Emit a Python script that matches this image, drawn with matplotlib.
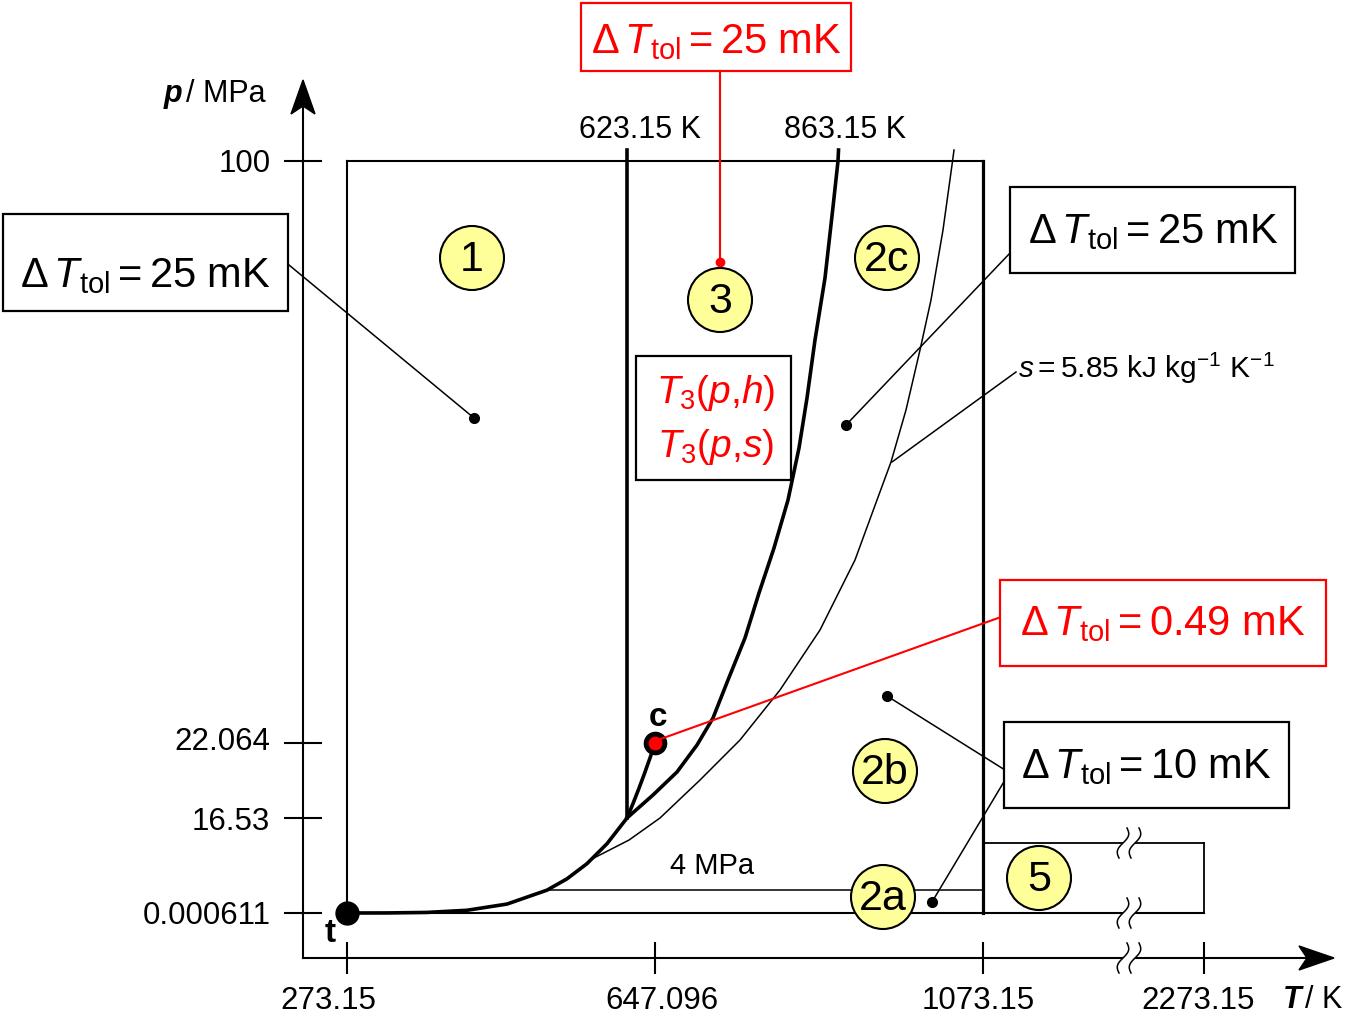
import numpy as np
import matplotlib
matplotlib.use('Agg')
import matplotlib.pyplot as plt
from matplotlib.patches import Rectangle, Circle, Polygon
from matplotlib.ticker import NullLocator
import matplotlib.transforms as mtransforms

plt.rcParams['font.family'] = ['Liberation Sans', 'DejaVu Sans']
plt.rcParams['mathtext.fontset'] = 'custom'
plt.rcParams['mathtext.rm'] = 'Liberation Sans'
plt.rcParams['mathtext.it'] = 'Liberation Sans:italic'
plt.rcParams['mathtext.bf'] = 'Liberation Sans:bold'

# ---------------- data ----------------
T_ticks = [273.15, 647.096, 1073.15, 2273.15]
T_tick_labels = ['273.15', '647.096', '1073.15', '2273.15']
p_ticks = [0.000611, 16.53, 22.064, 100]
p_tick_labels = ['0.000611', '16.53', '22.064', '100']

T_triple, p_triple = 273.16, 0.000611
T_crit, p_crit = 647.096, 22.064
T_13 = 623.15          # boundary region 1 / 3
T_max = 1073.15
T_5max = 2273.15
p_min = 0.000611
p_max = 100.0
p_top_ext = 101.5      # lines drawn slightly above 100 MPa
p_2a2b = 4.0
T_sat_4MPa = 523.5
p_5top = 12.2          # schematic upper edge of region 5 as drawn

# saturation line (T / K, p / MPa)
sat_T = [273.16, 323.15, 373.15, 423.15, 473.15, 523.15, 548.15, 573.15,
         598.15, 623.15, 628.15, 633.15, 638.15, 643.15, 647.096]
sat_p = [0.000612, 0.012352, 0.10142, 0.4762, 1.5547, 3.9762, 5.9464, 8.5879,
         12.056, 16.529, 17.57, 18.666, 19.822, 21.044, 22.064]

# boundary between regions 2 and 3 (as drawn)
b23_T = [623.15, 645.39, 673.07, 696.68, 715.57, 733.28, 753.35, 769.88, 787.59,
         804.12, 817.11, 826.55, 835.99, 847.80, 857.25, 863.15, 863.9]
b23_p = [16.53, 18.227, 19.924, 21.916, 25.412, 30.500, 36.125, 42.151, 48.177,
         54.604, 61.568, 68.263, 76.030, 84.333, 93.840, 100.0, 101.47]

# isentrope s = 5.85 kJ/(kg K)
s_T = [579.4, 624.9, 653.0, 700.2, 747.45, 794.67, 841.90, 887.77, 919.63, 939.91,
       961.63, 981.91, 997.84, 1015.22, 1028.25, 1031.15]
s_p = [9.40, 12.70, 16.53, 19.33, 22.466, 29.161, 37.196, 46.570, 54.604, 59.693,
       66.656, 74.691, 81.387, 90.761, 99.465, 101.473]

# ---------------- schematic (piecewise linear) scales ----------------
W, H = 1350, 1024
X_KNOTS_T = [273.15, 623.15, 647.096, 863.15, 1073.15, 2273.15]
X_KNOTS_PX = [347, 627, 655, 838, 983, 1204]
Y_KNOTS_P = [0.000611, 16.53, 22.064, 100.0]
Y_KNOTS_PX = [H - 913, H - 818, H - 743, H - 161]


def pwl(xk, yk):
    xk = np.asarray(xk, float)
    yk = np.asarray(yk, float)
    s0 = (yk[1] - yk[0]) / (xk[1] - xk[0])
    s1 = (yk[-1] - yk[-2]) / (xk[-1] - xk[-2])

    def f(v):
        v = np.asarray(v, dtype=float)
        out = np.interp(v, xk, yk)
        out = np.where(v < xk[0], yk[0] + (v - xk[0]) * s0, out)
        out = np.where(v > xk[-1], yk[-1] + (v - xk[-1]) * s1, out)
        return out
    return f


fx, fx_inv = pwl(X_KNOTS_T, X_KNOTS_PX), pwl(X_KNOTS_PX, X_KNOTS_T)
fy, fy_inv = pwl(Y_KNOTS_P, Y_KNOTS_PX), pwl(Y_KNOTS_PX, Y_KNOTS_P)

fig = plt.figure(figsize=(13.5, 10.24), dpi=100)
AX_L, AX_R, AX_T, AX_B = 303, 1332, 82, 958
ax = fig.add_axes([AX_L / W, (H - AX_B) / H, (AX_R - AX_L) / W, (AX_B - AX_T) / H])
ax.set_xscale('function', functions=(fx, fx_inv))
ax.set_yscale('function', functions=(fy, fy_inv))
ax.set_xlim(float(fx_inv(AX_L)), float(fx_inv(AX_R)))
ax.set_ylim(float(fy_inv(H - AX_B)), float(fy_inv(H - AX_T)))
ax.patch.set_alpha(0)

for s in ('top', 'right'):
    ax.spines[s].set_visible(False)
for s in ('left', 'bottom'):
    ax.spines[s].set_linewidth(1.5)

ax.set_xticks(T_ticks, T_tick_labels)
ax.set_yticks(p_ticks, p_tick_labels)
ax.xaxis.set_minor_locator(NullLocator())
ax.yaxis.set_minor_locator(NullLocator())
ax.tick_params(axis='x', direction='inout', length=23, width=1.5, pad=9, labelsize=22.5)
ax.tick_params(axis='y', direction='inout', length=27, width=1.5, pad=10, labelsize=22.5)

x_off = [-19, 7, -5, -6]
for lab, d in zip(ax.get_xticklabels(), x_off):
    lab.set_transform(lab.get_transform() + mtransforms.ScaledTranslation(d / 100, 0, fig.dpi_scale_trans))
y_off = [0, 0, 4, 0]
for lab, d in zip(ax.get_yticklabels(), y_off):
    lab.set_transform(lab.get_transform() + mtransforms.ScaledTranslation(0, d / 100, fig.dpi_scale_trans))

K = 'black'
thick, thin, box_lw = 2.6, 1.1, 1.5

# region frame
ax.plot([T_triple, T_triple], [p_min, p_max], color=K, lw=box_lw, clip_on=False)
ax.plot([273.15, T_max], [p_max, p_max], color=K, lw=box_lw, clip_on=False)
ax.plot([273.15, T_5max], [p_min, p_min], color=K, lw=box_lw, clip_on=False)
ax.plot([T_max, T_max], [p_min, p_max], color=K, lw=2.3, clip_on=False)
# region 5 frame
ax.plot([T_max, T_5max], [p_5top, p_5top], color=K, lw=1.3, clip_on=False)
ax.plot([T_5max, T_5max], [p_min, p_5top], color=K, lw=1.3, clip_on=False)
# 4 MPa line
ax.plot([T_sat_4MPa, T_max], [p_2a2b, p_2a2b], color=K, lw=thin, clip_on=False)
# region 1/3 boundary
ax.plot([T_13, T_13], [16.53, p_top_ext], color=K, lw=thick, clip_on=False)
# saturation line, B23, isentrope
ax.plot(sat_T, sat_p, color=K, lw=thick, solid_capstyle='round', clip_on=False)
ax.plot(b23_T, b23_p, color=K, lw=thick, clip_on=False, zorder=9)
ax.plot(s_T, s_p, color=K, lw=thin, clip_on=False)
# triple & critical point
ax.plot([T_triple], [p_triple], 'o', color=K, ms=16.5, clip_on=False, zorder=5)
ax.plot([T_crit], [p_crit], 'o', color=K, ms=16, clip_on=False, zorder=5)
ax.plot([T_crit], [p_crit], 'o', color='red', ms=9, clip_on=False, zorder=6)

# ---------------- overlay (pixel layout) ----------------
ov = fig.add_axes([0, 0, 1, 1])
ov.set_xlim(0, W)
ov.set_ylim(H, 0)
ov.axis('off')
ov.patch.set_alpha(0)

RED = '#ff0000'
YEL = '#ffff99'

# axis arrow heads
ov.add_patch(Polygon([(303, 80), (291, 114), (303, 106), (315, 114)], closed=True, color=K, zorder=5))
ov.add_patch(Polygon([(1334, 958), (1299, 946), (1307, 958), (1299, 970)], closed=True, color=K, zorder=5))


def draw_break(xc, yc):
    t = np.linspace(0, 1, 60)
    yy = yc - 15 + 30 * t
    curves = []
    for dx in (-6, 6):
        xx = xc + dx + 3.5 * np.sin(2 * np.pi * t) + 8 * (0.5 - t)
        curves.append(xx)
    poly = np.column_stack([np.r_[curves[0], curves[1][::-1]], np.r_[yy, yy[::-1]]])
    ov.add_patch(Polygon(poly, closed=True, facecolor='white', edgecolor='none', zorder=3))
    for xx in curves:
        ov.plot(xx, yy, color=K, lw=1.1, zorder=4)


for yb in (843, 913, 958):
    draw_break(1129, yb)

# region circles
regions = [('1', 472, 258), ('3', 720, 300), ('2c', 887, 258), ('2b', 885, 771),
           ('2a', 883, 897), ('5', 1039, 878)]
for lab, cx, cy in regions:
    ov.add_patch(Circle((cx, cy), 32, facecolor=YEL, edgecolor=K, lw=1.5, zorder=6))
    ov.text(cx, cy + 2, lab, ha='center', va='center', fontsize=31, zorder=7)


def box(x0, y0, x1, y1, ec, fill=True):
    ov.add_patch(Rectangle((x0, y0), x1 - x0, y1 - y0, facecolor='white' if fill else 'none',
                           edgecolor=ec, lw=1.6, zorder=6))


tol = lambda v: r'$\Delta\,T_{\mathrm{tol}} = ' + v + r'\ \mathrm{mK}$'
FS = 30

# left box (region 1)
ov.plot([289, 474], [265, 418], color=K, lw=thin, zorder=5)
ov.plot([474], [418], 'o', color=K, ms=7, zorder=5)
box(3, 214, 288, 311, K)
ov.text(145, 287, tol('25'), ha='center', va='baseline', fontsize=FS, zorder=7)

# top red box (region 3)
ov.plot([720, 720], [71, 262], color=RED, lw=1.5, zorder=5)
ov.plot([720], [262], 'o', color=RED, ms=6, zorder=5)
box(581, 3, 851, 71, RED)
ov.text(716, 53, tol('25'), ha='center', va='baseline', fontsize=FS, color=RED, zorder=7)

# right top box (region 2c)
ov.plot([1011, 846], [252, 425], color=K, lw=thin, zorder=5)
ov.plot([846], [425], 'o', color=K, ms=7, zorder=5)
box(1010, 187, 1295, 273, K)
ov.text(1153, 243, tol('25'), ha='center', va='baseline', fontsize=FS, zorder=7)

# T3 box
box(636, 356, 791, 480, K)
ov.text(716, 403, r'$T_3(p{,}h)$', ha='center', va='baseline', fontsize=28, color=RED, zorder=7)
ov.text(716, 457, r'$T_3(p{,}s)$', ha='center', va='baseline', fontsize=28, color=RED, zorder=7)

# red 0.49 mK box (saturation line)
ov.plot([1001, 655], [617, 741], color=RED, lw=1.5, zorder=5)
box(1000, 580, 1326, 666, RED)
ov.text(1163, 635, tol('0.49'), ha='center', va='baseline', fontsize=FS, color=RED, zorder=7)

# 10 mK box (regions 2a, 2b)
ov.plot([1005, 887], [770, 696], color=K, lw=thin, zorder=5)
ov.plot([1005, 932], [780, 902], color=K, lw=thin, zorder=5)
ov.plot([887, 932], [696, 902], 'o', color=K, ms=7, zorder=8)
box(1004, 722, 1289, 808, K)
ov.text(1146, 778, tol('10'), ha='center', va='baseline', fontsize=FS, zorder=7)

# isentrope label
ov.plot([1016, 892], [372, 462], color=K, lw=thin, zorder=5)
ov.text(1018, 378, r'$s = 5.85\ \mathrm{kJ\ kg^{-1}\ K^{-1}}$', ha='left', va='baseline',
        fontsize=21.5, zorder=7)

# other labels
ov.text(712, 866, '4 MPa', ha='center', va='center', fontsize=21, zorder=7)
ov.text(640, 130, '623.15 K', ha='center', va='center', fontsize=22, zorder=7)
ov.text(845, 130, '863.15 K', ha='center', va='center', fontsize=22, zorder=7)
ov.text(330, 934, 't', ha='center', va='center', fontsize=24, fontweight='bold', zorder=7)
ov.text(658, 717, 'c', ha='center', va='center', fontsize=24, fontweight='bold', zorder=7)
ov.text(182, 94, 'p', ha='right', va='center', fontsize=22, fontweight='bold', style='italic')
ov.text(186, 94, '/ MPa', ha='left', va='center', fontsize=22)
ov.text(1301, 1000, 'T', ha='right', va='center', fontsize=22, fontweight='bold', style='italic')
ov.text(1305, 1000, '/ K', ha='left', va='center', fontsize=22)

fig.savefig('out.png', dpi=100)
